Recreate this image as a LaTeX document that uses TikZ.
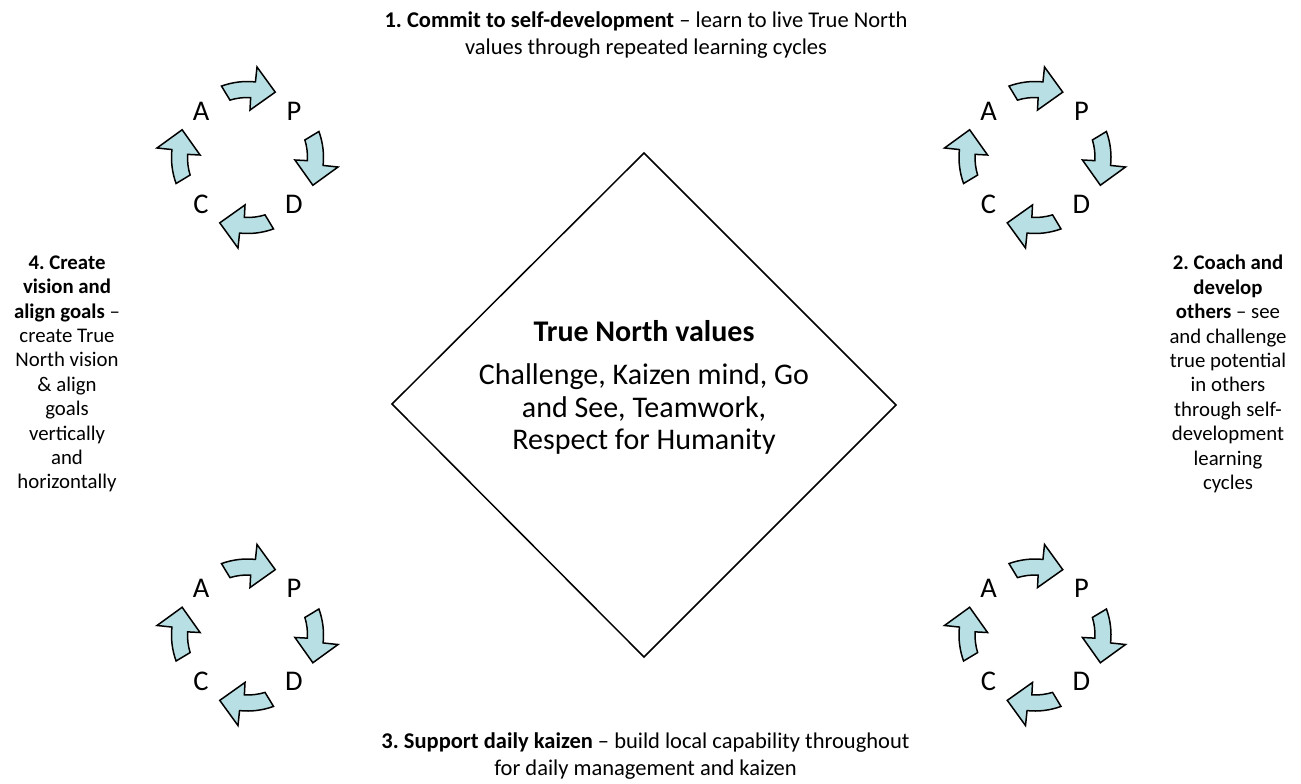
\documentclass[tikz,border=0pt]{standalone}
\usepackage{fontspec}
\setmainfont{Carlito}
\frenchspacing
\definecolor{cyc}{RGB}{184,223,227}
\tikzset{
  pdca/.style={font=\fontsize{28.5}{30}\selectfont, inner sep=0pt},
  cyclearrow/.style={draw=black, line width=1.5pt, fill=cyc, line join=miter},
  sidetext/.style={align=center, inner sep=0pt, font=\fontsize{20.8}{24.4}\selectfont},
  edgetext/.style={align=center, inner sep=0pt, font=\fontsize{22.5}{26.6}\selectfont},
  centertext/.style={align=center, inner sep=0pt, font=\fontsize{30}{32.7}\selectfont},
  diamondline/.style={draw=black, line width=1.5pt, line join=miter}
}
\newcommand\pdcacycle[3]{%
  \begin{scope}[shift={(#2,#3)}]
    \node[pdca] (#1A) at (-46.5,-46.5) {A};
    \node[pdca] (#1P) at (46.5,-46.5) {P};
    \node[pdca] (#1C) at (-46.5,46.5) {C};
    \node[pdca] (#1D) at (46.5,46.5) {D};
    \foreach \r in {0,-90,180,90} {
      \draw[cyclearrow, rotate=\r] (110:76pt) arc[start angle=110, end angle=84, radius=76pt]
        -- (84:91pt) -- (67:71pt) -- (87:47.5pt) -- (87:60pt)
        arc[start angle=87, end angle=107, radius=60pt] -- cycle;
    }
  \end{scope}}
\begin{document}
\begin{tikzpicture}[x=1pt, y=-1pt]
  \useasboundingbox (0,0) rectangle (1301,784);
  % diamond
  \coordinate (dt) at (644,153);
  \coordinate (dr) at (896,405);
  \coordinate (db) at (644,657);
  \coordinate (dl) at (392,404);
  \draw[diamondline] (dt) -- (dr) -- (db) -- (dl) -- cycle;
  \node[centertext] (title) at (644,331) {\textbf{True North values}};
  \node[centertext] (values) at (644,409) {Challenge, Kaizen mind, Go\\and See, Teamwork,\\Respect for Humanity};
  % cycles
  \pdcacycle{tl}{247.5}{157.5}
  \pdcacycle{tr}{1035}{157.5}
  \pdcacycle{bl}{247.5}{635}
  \pdcacycle{br}{1035}{635}
  % texts
  \node[edgetext] (t1) at (646,35) {\textbf{1. Commit to self-development} – learn to live True North\\values through repeated learning cycles};
  \node[sidetext] (t2) at (1228,374) {\textbf{2. Coach and}\\\textbf{develop}\\\textbf{others} – see\\and challenge\\true potential\\in others\\through self-\\development\\learning\\cycles};
  \node[edgetext] (t3) at (645.5,756) {\textbf{3. Support daily kaizen} – build local capability throughout\\for daily management and kaizen};
  \node[sidetext] (t4) at (67,374) {\textbf{4. Create}\\\textbf{vision and}\\\textbf{align goals} –\\create True\\North vision\\\& align\\goals\\vertically\\and\\horizontally};
\end{tikzpicture}
\end{document}
